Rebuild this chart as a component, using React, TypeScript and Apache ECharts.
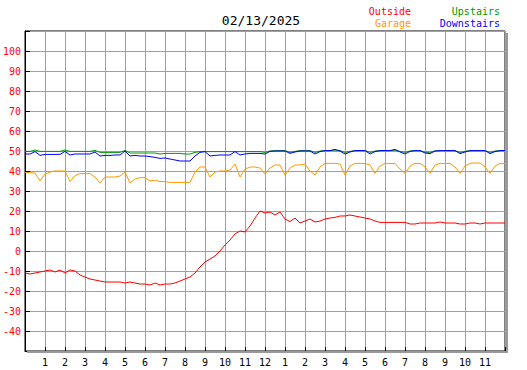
import React, { useEffect, useRef } from "react";
import * as echarts from "echarts";

const TITLE = "02/13/2025";
const STEP_HOURS = 0.25;
const HOUR_LABELS = ["", "1", "2", "3", "4", "5", "6", "7", "8", "9", "10", "11", "12", "1", "2", "3", "4", "5", "6", "7", "8", "9", "10", "11", ""];

const outside = [
  -11, -11.5, -11, -10.5, -10, -9.5, -10.5, -9.5, -11, -9.5, -10, -12,
  -13, -14, -14.5, -15, -15.5, -15.5, -15.5, -15.5, -16, -15.5, -16, -16.5,
  -16.5, -17, -16, -17, -16.5, -16.5, -16, -15, -14, -13, -11, -8,
  -5.5, -4, -2.5, 0, 3, 5.5, 8.5, 10, 9.5, 12.5, 16.5, 20,
  19, 19.5, 18, 19.5, 16, 14.7, 16.5, 14, 15, 16, 14.5, 15,
  16, 16.5, 16.8, 17.5, 17.5, 18, 17.5, 17, 16.5, 16, 15, 14.3,
  14.3, 14.3, 14.3, 14.3, 14.3, 13.5, 13.5, 14, 14, 14, 14, 14.5,
  14, 14, 14, 13.5, 13.5, 14, 14, 13.5, 14, 14, 14, 14,
  14,
];

const garage = [
  39.2, 39.2, 39, 35, 38.5, 39.5, 40, 40, 40, 34.7, 37.7, 38.7,
  38.7, 38.7, 37, 34, 37, 37, 37, 37.5, 39.5, 34, 36, 36.7,
  36.7, 35, 35.5, 34.7, 34.7, 34.3, 34.3, 34.3, 34.3, 34.3, 39.5, 42,
  42, 37, 39.5, 40, 40, 40.5, 43.5, 37, 41, 42, 42, 41.5,
  38.5, 41.5, 43, 43, 38, 41.5, 43, 43, 43.5, 40, 38, 42,
  43.8, 43.8, 43.8, 43.5, 38, 42.5, 43.8, 43.8, 43.8, 43, 38.8, 42.5,
  43.8, 43.8, 43.8, 41, 38.8, 42.5, 43.8, 43.8, 42, 38.8, 43, 43.8,
  43.8, 43.8, 42, 38.8, 42.5, 43.8, 44, 44, 42, 38.8, 42.5, 43.8,
  43.8,
];

const upstairs = [
  49.8, 49.8, 50.5, 49.8, 49.8, 49.8, 49.8, 49.8, 50.5, 49.8, 49.8, 49.8,
  49.8, 49.8, 50.3, 49.3, 49.3, 49.3, 49.3, 49.3, 50.3, 49, 49, 49,
  49, 49, 49, 48.5, 48.8, 48.8, 48.8, 48.8, 48.5, 48.5, 49.3, 49.7,
  49.7, 49.7, 49.7, 49.7, 49.7, 49.7, 49.7, 49.7, 49.7, 49.7, 49.7, 49.7,
  49.3, 50, 50.2, 50.2, 50.2, 49.3, 49.8, 50.2, 50.2, 50.2, 49.3, 50,
  50.2, 50.2, 50.4, 50.2, 49.3, 49.8, 50.2, 50.2, 50.2, 49.3, 50, 50.2,
  50.2, 50.2, 50.4, 49.8, 49.3, 50, 50.2, 50.2, 49.4, 49.3, 50, 50.2,
  50.2, 50.2, 50.2, 49.3, 49.8, 50.2, 50.2, 50.2, 50.2, 49.3, 50, 50.2,
  50.2,
];

const downstairs = [
  48.5, 48.5, 49.7, 47.8, 48.3, 48.3, 48.3, 48.3, 49.8, 48, 48.5, 48.5,
  48.5, 48.5, 49.5, 47.5, 47.8, 47.8, 48, 48, 50, 47.5, 47.8, 47.5,
  47.5, 47.2, 46.8, 46.3, 46.5, 46, 45.5, 45, 45, 45, 47.5, 49.3,
  49.7, 47.5, 47.8, 48, 48, 48, 49.7, 48, 48.5, 48.8, 48.8, 48.8,
  48.5, 49.8, 50, 50, 50, 48.8, 49.5, 50, 50, 50, 48.5, 49.7,
  50.2, 50.2, 50.8, 50, 48.5, 49.5, 50.2, 50.2, 50.2, 48.5, 49.7, 50.2,
  50.2, 50.2, 50.8, 49.5, 48.5, 49.8, 50.2, 50.2, 49, 48.7, 50, 50.2,
  50.2, 50.2, 50.2, 48.7, 49.5, 50.2, 50.2, 50.2, 50.2, 48.7, 49.7, 50.2,
  50.2,
];

const SERIES = [
  { name: "Outside", values: outside, color: "#ff0000" },
  { name: "Garage", values: garage, color: "#ff9900" },
  { name: "Upstairs", values: upstairs, color: "#009900" },
  { name: "Downstairs", values: downstairs, color: "#0000ff" },
];

const MONO = "'DejaVu Sans Mono', monospace";

export default function App() {
  const ref = useRef<HTMLDivElement>(null);
  useEffect(() => {
    if (!ref.current) return;
    document.body.style.margin = "0";
    const chart = echarts.init(ref.current, undefined, { renderer: "svg" });
    const toPairs = (vals: number[]) => vals.map((v, i) => [i * STEP_HOURS, v]);
    chart.setOption({
      animation: false,
      backgroundColor: "#fff",
      grid: {
        left: 25,
        top: 31,
        width: 480,
        height: 320,
        show: true,
        borderColor: "#000",
        borderWidth: 1,
        backgroundColor: "#fff",
        containLabel: false,
        outerBoundsMode: "none",
      },
      xAxis: {
        type: "value",
        min: 0,
        max: 24,
        interval: 1,
        axisLine: { show: true, onZero: false, lineStyle: { color: "#000", width: 1 } },
        axisTick: { show: true, inside: true, length: 4, lineStyle: { color: "#000" } },
        axisLabel: {
          color: "#000",
          fontFamily: MONO,
          fontSize: 10,
          margin: 6,
          formatter: (v: number) => HOUR_LABELS[Math.round(v)] ?? "",
        },
        splitLine: { show: true, lineStyle: { color: "#a0a0a0", width: 1 } },
      },
      yAxis: {
        type: "value",
        min: -50,
        max: 110,
        interval: 10,
        axisLine: { show: true, onZero: false, lineStyle: { color: "#000", width: 1 } },
        axisTick: { show: true, inside: true, length: 5, lineStyle: { color: "#000" } },
        axisLabel: {
          color: "#ff0000",
          fontFamily: MONO,
          fontSize: 10,
          margin: 4,
          formatter: (v: number) => (v <= -50 || v >= 110 ? "" : String(v)),
        },
        splitLine: { show: true, lineStyle: { color: "#a0a0a0", width: 1 } },
      },
      series: SERIES.map((s) => ({
        name: s.name,
        type: "line",
        data: toPairs(s.values),
        showSymbol: false,
        symbol: "none",
        lineStyle: { color: s.color, width: 1 },
        itemStyle: { color: s.color },
        silent: true,
      })),
      graphic: [
        {
          type: "polyline",
          shape: { points: [[507, 33], [507, 352], [27, 352]] },
          style: { stroke: "#999", lineWidth: 2, fill: null },
          z: 1,
        },
        {
          type: "text",
          x: 261,
          y: 20,
          style: { text: TITLE, fill: "#000", font: `13px ${MONO}`, textAlign: "center", textVerticalAlign: "middle" },
        },
        {
          type: "text",
          x: 411,
          y: 11,
          style: { text: "Outside", fill: "#ff0000", font: `10px ${MONO}`, textAlign: "right", textVerticalAlign: "middle" },
        },
        {
          type: "text",
          x: 411,
          y: 23,
          style: { text: "Garage", fill: "#ff9900", font: `10px ${MONO}`, textAlign: "right", textVerticalAlign: "middle" },
        },
        {
          type: "text",
          x: 500,
          y: 11,
          style: { text: "Upstairs", fill: "#009900", font: `10px ${MONO}`, textAlign: "right", textVerticalAlign: "middle" },
        },
        {
          type: "text",
          x: 500,
          y: 23,
          style: { text: "Downstairs", fill: "#0000ff", font: `10px ${MONO}`, textAlign: "right", textVerticalAlign: "middle" },
        },
      ],
    });
    return () => chart.dispose();
  }, []);
  return <div ref={ref} style={{ width: 527, height: 370 }} />;
}
